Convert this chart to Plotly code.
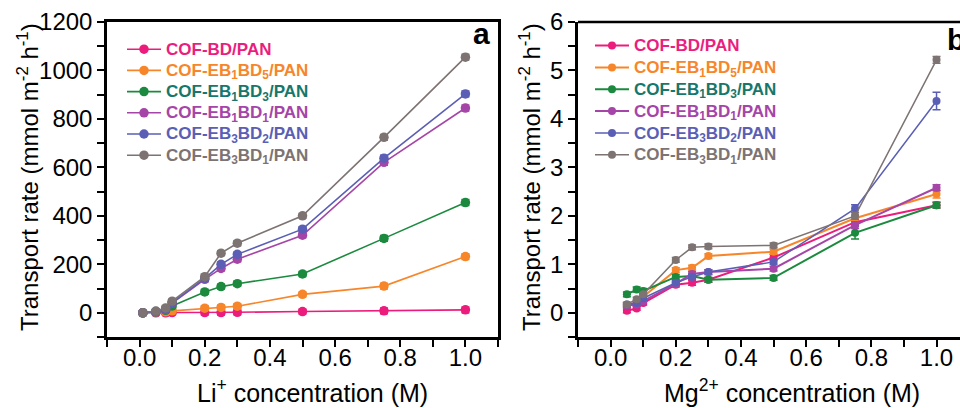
import plotly.graph_objects as go

# ---------------- data ----------------
names = ["COF-BD/PAN", "COF-EB<sub>1</sub>BD<sub>5</sub>/PAN", "COF-EB<sub>1</sub>BD<sub>3</sub>/PAN",
         "COF-EB<sub>1</sub>BD<sub>1</sub>/PAN", "COF-EB<sub>3</sub>BD<sub>2</sub>/PAN", "COF-EB<sub>3</sub>BD<sub>1</sub>/PAN"]
line_colors = ["#EC1C7C", "#F7862B", "#1B8A3E", "#A545A8", "#5A5FB5", "#7D7372"]
text_colors = ["#E91E7E", "#F7862B", "#16776B", "#A545A8", "#5A5FB5", "#7D7372"]

# Panel a: Li+ concentration
li_x = [0.01, 0.05, 0.08, 0.10, 0.20, 0.25, 0.30, 0.50, 0.75, 1.00]
li_bd     = [0, 0, 0, 1, 1, 1, 2, 5, 8, 12]
li_eb1bd5 = [0, 2, 4, 8, 19, 22, 27, 76, 110, 232]
li_eb1bd3 = [0, 3, 10, 28, 86, 108, 120, 160, 307, 455]
li_eb1bd1 = [0, 4, 13, 40, 138, 183, 221, 320, 621, 845]
li_eb3bd2 = [0, 5, 15, 42, 142, 200, 241, 345, 638, 903]
li_eb3bd1 = [0, 7, 20, 48, 149, 246, 287, 400, 724, 1055]
li_err = [8, 8, 8, 8, 10, 10, 10, 10, 12, 12]

# Panel b: Mg2+ concentration
mg_x = [0.05, 0.08, 0.10, 0.20, 0.25, 0.30, 0.50, 0.75, 1.00]
mg_bd     = [0.04, 0.09, 0.20, 0.58, 0.62, 0.68, 1.14, 1.87, 2.22]
mg_eb1bd5 = [0.16, 0.20, 0.33, 0.88, 0.93, 1.17, 1.26, 1.95, 2.45]
mg_eb1bd3 = [0.38, 0.48, 0.45, 0.74, 0.76, 0.68, 0.72, 1.65, 2.22]
mg_eb1bd1 = [0.15, 0.17, 0.24, 0.60, 0.80, 0.84, 0.91, 1.81, 2.58]
mg_eb3bd2 = [0.17, 0.20, 0.30, 0.62, 0.74, 0.84, 1.05, 2.15, 4.37]
mg_eb3bd1 = [0.17, 0.28, 0.38, 1.09, 1.35, 1.37, 1.39, 2.00, 5.22]
mg_err_bd     = [0.04, 0.04, 0.04, 0.05, 0.05, 0.05, 0.06, 0.07, 0.06]
mg_err_eb1bd5 = [0.04, 0.04, 0.04, 0.05, 0.05, 0.05, 0.05, 0.07, 0.08]
mg_err_eb1bd3 = [0.05, 0.05, 0.05, 0.05, 0.05, 0.05, 0.05, 0.13, 0.06]
mg_err_eb1bd1 = [0.04, 0.04, 0.04, 0.05, 0.05, 0.05, 0.05, 0.07, 0.06]
mg_err_eb3bd2 = [0.04, 0.04, 0.04, 0.05, 0.05, 0.05, 0.05, 0.08, 0.18]
mg_err_eb3bd1 = [0.04, 0.04, 0.04, 0.05, 0.05, 0.05, 0.05, 0.07, 0.07]

li_series = [li_bd, li_eb1bd5, li_eb1bd3, li_eb1bd1, li_eb3bd2, li_eb3bd1]
mg_series = [mg_bd, mg_eb1bd5, mg_eb1bd3, mg_eb1bd1, mg_eb3bd2, mg_eb3bd1]
mg_errs = [mg_err_bd, mg_err_eb1bd5, mg_err_eb1bd3, mg_err_eb1bd1, mg_err_eb3bd2, mg_err_eb3bd1]

FONT = "Arial, Liberation Sans, sans-serif"

fig = go.Figure()

def label(i):
    return "<b><span style='color:%s;font-size:17px'>%s</span></b>" % (text_colors[i], names[i])

for i in range(6):
    fig.add_trace(go.Scatter(
        x=li_x, y=li_series[i], mode="lines+markers", name=label(i),
        line=dict(color=line_colors[i], width=1.6),
        marker=dict(symbol="circle", size=9.5, color=line_colors[i],
                    line=dict(color=line_colors[i], width=0)),
        error_y=dict(type="data", array=li_err, color=line_colors[i], thickness=1.5, width=4),
        xaxis="x", yaxis="y", legend="legend"))

for i in range(6):
    fig.add_trace(go.Scatter(
        x=mg_x, y=mg_series[i], mode="lines+markers", name=label(i),
        line=dict(color=line_colors[i], width=2.0 if i < 4 else 1.5),
        marker=dict(symbol="circle", size=8, color=line_colors[i],
                    line=dict(color=line_colors[i], width=0)),
        error_y=dict(type="data", array=mg_errs[i], color=line_colors[i], thickness=1.5, width=4),
        xaxis="x2", yaxis="y2", legend="legend2"))

W, H = 960, 408
ml, mt, mb, mr = 107, 22, 71, 0
pw = W - ml - mr
ph = H - mt - mb
dom_a = [0, (498 - ml) / pw]
dom_b = [(578 - ml) / pw, 1]

def px_x(p):
    return (p - ml) / pw

def px_y(p):
    return 1 - (p - mt) / ph

axis_common = dict(showgrid=False, zeroline=False, showline=True, linecolor="black", linewidth=2.5,
                   ticks="outside", ticklen=7, tickwidth=2, tickcolor="black",
                   tickfont=dict(family=FONT, size=24, color="black"))
minor_common = dict(ticks="outside", ticklen=7, tickwidth=2, tickcolor="black")

ytitle = "Transport rate (mmol m<sup>-2</sup> h<sup>-1</sup>)"

fig.update_layout(
    width=W, height=H,
    margin=dict(l=ml, r=mr, t=mt, b=mb),
    paper_bgcolor="white", plot_bgcolor="white",
    font=dict(family=FONT, color="black"),
    xaxis=dict(domain=dom_a, range=[-0.1, 1.1], dtick=0.2, tick0=0, tickformat=".1f", mirror=True,
               minor=dict(dtick=0.1, tick0=0, **minor_common), ticklabelstandoff=-10,
               anchor="y", **axis_common),
    yaxis=dict(domain=[0, 1], range=[-100, 1200], dtick=200, tick0=0, mirror=True,
               minor=dict(dtick=100, tick0=0, **minor_common),
               anchor="x", **axis_common),
    xaxis2=dict(domain=dom_b, range=[-0.1, 1.072], dtick=0.2, tick0=0, tickformat=".1f",
                minor=dict(dtick=0.1, tick0=0, **minor_common), ticklabelstandoff=-10,
                anchor="y2", **axis_common),
    yaxis2=dict(domain=[0, 1], range=[-0.5, 6], dtick=1, tick0=0,
                minor=dict(dtick=0.5, tick0=0, **minor_common),
                anchor="x2", **axis_common),
    legend=dict(x=px_x(122), y=px_y(33.6), xanchor="left", yanchor="top", itemwidth=34,
                bgcolor="rgba(0,0,0,0)", font=dict(family=FONT, size=14), tracegroupgap=0,
                itemclick=False),
    legend2=dict(x=px_x(590), y=px_y(29.6), xanchor="left", yanchor="top", itemwidth=34,
                 bgcolor="rgba(0,0,0,0)", font=dict(family=FONT, size=14.5), tracegroupgap=0,
                 itemclick=False),
    showlegend=True,
)

# top border for cropped panel b
fig.add_shape(type="line", xref="x2 domain", yref="y2 domain", x0=0, x1=1, y0=1, y1=1,
              line=dict(color="black", width=2.5))

# axis titles
for xc in (28, 530):
    fig.add_annotation(text=ytitle, xref="paper", yref="paper", x=px_x(xc), y=px_y(177),
                       xanchor="center", yanchor="middle", textangle=-90, showarrow=False,
                       font=dict(family=FONT, size=24, color="black"))
fig.add_annotation(text="Li<sup>+</sup> concentration (M)", xref="paper", yref="paper",
                   x=px_x(312), y=px_y(391), xanchor="center", yanchor="middle", showarrow=False,
                   font=dict(family=FONT, size=25, color="black"))
fig.add_annotation(text="Mg<sup>2+</sup> concentration (M)", xref="paper", yref="paper",
                   x=px_x(792), y=px_y(391), xanchor="center", yanchor="middle", showarrow=False,
                   font=dict(family=FONT, size=25, color="black"))

# panel labels
fig.add_annotation(text="<b>a</b>", xref="paper", yref="paper", x=px_x(492), y=px_y(33),
                   xanchor="right", yanchor="middle", showarrow=False,
                   font=dict(family=FONT, size=30, color="black"))
fig.add_annotation(text="<b>b</b>", xref="paper", yref="paper", x=px_x(945), y=px_y(39),
                   xanchor="left", yanchor="middle", showarrow=False,
                   font=dict(family=FONT, size=30, color="black"))

fig.write_html("out.html")
